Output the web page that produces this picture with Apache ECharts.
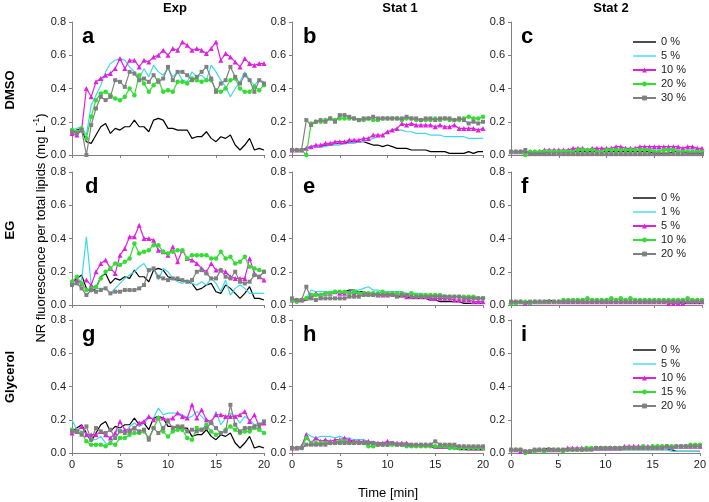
<!DOCTYPE html>
<html>
<head>
<meta charset="utf-8">
<script src="https://cdn.jsdelivr.net/npm/echarts@6/dist/echarts.min.js"></script>
<style>html,body{margin:0;padding:0;background:#fff}#c{width:709px;height:502px}</style>
</head>
<body>
<div id="c"></div>
<script>
// ---- data ----
const TIME = [0,0.5,1,1.5,2,2.5,3,3.5,4,4.5,5,5.5,6,6.5,7,7.5,8,8.5,9,9.5,10,10.5,11,11.5,12,12.5,13,13.5,14,14.5,15,15.5,16,16.5,17,17.5,18,18.5,19,19.5,20];
const ROW_NAMES = ['DMSO','EG','Glycerol'];
const COL_NAMES = ['Exp','Stat 1','Stat 2'];
const PANEL_LETTERS = ['a','b','c','d','e','f','g','h','i'];
const X_TICKS = [0,5,10,15,20];
const Y_TICKS = [0,0.2,0.4,0.6,0.8];
const LEG_DMSO = ['0 %','5 %','10 %','20 %','30 %'];
const LEG_EG = ['0 %','1 %','5 %','10 %','20 %'];
const LEG_GLY = ['0 %','5 %','10 %','15 %','20 %'];

// Panel a (DMSO, Exp)
const a_black = [0.13,0.15,0.16,0.08,0.07,0.12,0.17,0.19,0.13,0.16,0.15,0.17,0.17,0.21,0.17,0.17,0.14,0.21,0.22,0.21,0.16,0.16,0.15,0.15,0.15,0.10,0.11,0.11,0.14,0.10,0.08,0.11,0.10,0.12,0.06,0.03,0.06,0.10,0.03,0.04,0.03];
const a_cyan  = [0.15,0.16,0.17,0.12,0.30,0.36,0.42,0.50,0.55,0.57,0.58,0.57,0.53,0.50,0.46,0.52,0.47,0.54,0.50,0.48,0.52,0.47,0.50,0.45,0.44,0.50,0.47,0.48,0.45,0.54,0.50,0.45,0.41,0.35,0.40,0.44,0.50,0.45,0.42,0.45,0.44];
const a_mag   = [0.13,0.12,0.15,0.40,0.35,0.44,0.46,0.48,0.49,0.52,0.58,0.52,0.57,0.57,0.53,0.57,0.56,0.59,0.60,0.63,0.60,0.64,0.63,0.68,0.66,0.63,0.64,0.63,0.61,0.64,0.68,0.57,0.61,0.59,0.56,0.53,0.58,0.55,0.54,0.55,0.55];
const a_green = [0.15,0.14,0.16,0.10,0.23,0.33,0.37,0.38,0.36,0.34,0.33,0.35,0.40,0.36,0.48,0.43,0.38,0.42,0.45,0.38,0.39,0.38,0.44,0.44,0.43,0.46,0.45,0.44,0.45,0.45,0.39,0.38,0.40,0.45,0.46,0.40,0.38,0.38,0.41,0.39,0.42];
const a_gray  = [0.14,0.13,0.15,0.00,0.18,0.28,0.35,0.33,0.35,0.45,0.44,0.41,0.50,0.49,0.45,0.46,0.44,0.48,0.44,0.46,0.53,0.45,0.50,0.50,0.48,0.45,0.47,0.50,0.53,0.46,0.38,0.43,0.45,0.53,0.47,0.43,0.48,0.45,0.38,0.45,0.43];

// Panel b (DMSO, Stat 1)
const b_black = [0.03,0.03,0.03,0.04,0.05,0.05,0.05,0.06,0.06,0.07,0.07,0.07,0.08,0.08,0.08,0.08,0.07,0.06,0.06,0.05,0.06,0.05,0.04,0.04,0.04,0.03,0.03,0.03,0.03,0.02,0.02,0.02,0.02,0.01,0.01,0.01,0.01,0.02,0.01,0.02,0.02];
const b_cyan  = [0.03,0.03,0.03,0.04,0.05,0.05,0.05,0.05,0.06,0.06,0.06,0.07,0.07,0.07,0.08,0.08,0.09,0.10,0.11,0.12,0.14,0.15,0.15,0.15,0.14,0.14,0.13,0.13,0.13,0.12,0.12,0.12,0.11,0.11,0.11,0.11,0.11,0.10,0.10,0.10,0.10];
const b_mag   = [0.03,0.03,0.03,0.04,0.05,0.06,0.06,0.07,0.07,0.08,0.08,0.08,0.09,0.09,0.09,0.10,0.10,0.12,0.12,0.12,0.14,0.15,0.16,0.19,0.18,0.19,0.18,0.18,0.18,0.18,0.17,0.18,0.17,0.17,0.18,0.16,0.16,0.16,0.16,0.15,0.16];
const b_green = [0.03,0.03,0.03,0.00,0.19,0.20,0.20,0.21,0.22,0.21,0.22,0.22,0.22,0.22,0.21,0.21,0.22,0.21,0.21,0.22,0.22,0.22,0.22,0.21,0.22,0.22,0.21,0.21,0.21,0.21,0.22,0.21,0.22,0.21,0.21,0.21,0.22,0.23,0.22,0.22,0.23];
const b_gray  = [0.03,0.03,0.03,0.21,0.18,0.20,0.21,0.20,0.22,0.20,0.24,0.24,0.23,0.22,0.21,0.22,0.22,0.23,0.22,0.22,0.22,0.22,0.22,0.22,0.23,0.22,0.22,0.21,0.22,0.22,0.21,0.22,0.22,0.22,0.21,0.22,0.21,0.19,0.20,0.19,0.20];

// Panel c (DMSO, Stat 2)
const c_black = [0.02,0.02,0.02,0.02,0.01,0.01,0.01,0.01,0.02,0.02,0.02,0.02,0.02,0.02,0.02,0.02,0.02,0.02,0.02,0.02,0.02,0.02,0.02,0.02,0.02,0.02,0.02,0.02,0.02,0.02,0.01,0.01,0.01,0.01,0.02,0.02,0.02,0.01,0.01,0.01,0.01];
const c_cyan  = [0.02,0.02,0.02,0.02,0.01,0.02,0.02,0.02,0.02,0.02,0.02,0.02,0.03,0.03,0.03,0.03,0.03,0.03,0.03,0.03,0.03,0.03,0.03,0.03,0.03,0.03,0.03,0.03,0.03,0.03,0.03,0.03,0.03,0.03,0.03,0.03,0.03,0.03,0.03,0.03,0.03];
const c_mag   = [0.02,0.02,0.02,0.02,0.02,0.02,0.02,0.03,0.03,0.03,0.03,0.03,0.03,0.04,0.04,0.04,0.03,0.04,0.04,0.04,0.04,0.04,0.05,0.05,0.04,0.04,0.04,0.05,0.05,0.05,0.05,0.05,0.05,0.05,0.05,0.05,0.04,0.05,0.05,0.04,0.04];
const c_green = [0.02,0.02,0.02,0.00,0.02,0.02,0.02,0.02,0.02,0.02,0.02,0.02,0.02,0.02,0.03,0.03,0.03,0.03,0.02,0.02,0.03,0.03,0.03,0.03,0.03,0.03,0.03,0.03,0.03,0.03,0.02,0.02,0.03,0.03,0.03,0.02,0.02,0.02,0.02,0.02,0.02];
const c_gray  = [0.02,0.02,0.02,0.03,0.005,0.005,0.005,0.005,0.005,0.005,0.005,0.005,0.005,0.005,0.005,0.005,0.005,0.005,0.005,0.005,0.005,0.005,0.005,0.005,0.005,0.005,0.005,0.005,0.005,0.005,0.005,0.005,0.005,0.005,0.005,0.005,0.005,0.005,0.005,0.005,0.005];

// Panel d (EG, Exp)
const d_black = [0.14,0.16,0.18,0.10,0.08,0.10,0.17,0.19,0.13,0.16,0.15,0.17,0.16,0.21,0.17,0.17,0.14,0.21,0.22,0.21,0.17,0.16,0.15,0.15,0.14,0.13,0.09,0.10,0.12,0.13,0.08,0.07,0.12,0.10,0.07,0.04,0.07,0.11,0.04,0.04,0.03];
const d_cyan  = [0.12,0.13,0.15,0.41,0.12,0.10,0.10,0.10,0.07,0.10,0.13,0.16,0.18,0.20,0.23,0.25,0.20,0.22,0.15,0.22,0.20,0.16,0.14,0.13,0.15,0.13,0.12,0.14,0.12,0.16,0.13,0.08,0.15,0.06,0.10,0.12,0.10,0.07,0.07,0.07,0.07];
const d_mag   = [0.14,0.15,0.13,0.15,0.12,0.20,0.25,0.27,0.22,0.19,0.30,0.34,0.41,0.41,0.48,0.40,0.40,0.39,0.33,0.32,0.30,0.35,0.26,0.33,0.28,0.27,0.25,0.22,0.20,0.25,0.21,0.21,0.20,0.17,0.16,0.16,0.16,0.28,0.19,0.17,0.15];
const d_green = [0.14,0.17,0.13,0.09,0.10,0.11,0.16,0.20,0.22,0.25,0.24,0.26,0.28,0.37,0.31,0.32,0.33,0.36,0.36,0.32,0.31,0.32,0.33,0.33,0.28,0.30,0.30,0.30,0.30,0.28,0.28,0.32,0.28,0.29,0.25,0.26,0.29,0.23,0.22,0.21,0.20];
const d_gray  = [0.12,0.13,0.10,0.06,0.09,0.08,0.09,0.10,0.07,0.08,0.08,0.09,0.09,0.09,0.10,0.12,0.21,0.22,0.17,0.16,0.15,0.16,0.16,0.15,0.14,0.15,0.20,0.21,0.19,0.16,0.16,0.21,0.17,0.16,0.20,0.14,0.13,0.14,0.18,0.17,0.20];

// Panel e (EG, Stat 1)
const e_black = [0.03,0.03,0.02,0.03,0.05,0.06,0.06,0.07,0.07,0.08,0.08,0.08,0.09,0.09,0.08,0.08,0.07,0.07,0.06,0.06,0.06,0.06,0.05,0.05,0.05,0.04,0.04,0.04,0.04,0.03,0.03,0.02,0.02,0.02,0.02,0.02,0.01,0.01,0.01,0.01,0.01];
const e_cyan  = [0.03,0.03,0.03,0.04,0.09,0.08,0.08,0.08,0.08,0.08,0.08,0.08,0.08,0.09,0.09,0.10,0.11,0.09,0.09,0.08,0.08,0.08,0.08,0.08,0.07,0.07,0.07,0.07,0.06,0.06,0.06,0.06,0.06,0.05,0.05,0.05,0.05,0.04,0.04,0.03,0.03];
const e_mag   = [0.03,0.03,0.03,0.04,0.06,0.07,0.06,0.07,0.07,0.08,0.07,0.07,0.08,0.07,0.07,0.07,0.07,0.07,0.06,0.06,0.06,0.07,0.06,0.06,0.05,0.05,0.05,0.05,0.05,0.04,0.04,0.04,0.04,0.04,0.03,0.03,0.03,0.03,0.02,0.02,0.02];
const e_green = [0.03,0.02,0.03,0.04,0.06,0.06,0.06,0.07,0.07,0.08,0.08,0.08,0.07,0.08,0.07,0.07,0.07,0.07,0.07,0.08,0.07,0.07,0.07,0.07,0.06,0.07,0.06,0.06,0.06,0.06,0.06,0.06,0.05,0.05,0.05,0.05,0.05,0.05,0.05,0.04,0.04];
const e_gray  = [0.04,0.03,0.03,0.11,0.04,0.03,0.04,0.04,0.04,0.04,0.04,0.04,0.05,0.05,0.05,0.06,0.06,0.06,0.06,0.06,0.06,0.06,0.05,0.06,0.06,0.05,0.05,0.05,0.05,0.05,0.05,0.05,0.05,0.05,0.05,0.05,0.04,0.04,0.04,0.04,0.04];

// Panel f (EG, Stat 2)
const f_black = [0.02,0.02,0.02,0.02,0.02,0.02,0.02,0.02,0.03,0.02,0.02,0.02,0.02,0.02,0.02,0.02,0.02,0.02,0.02,0.02,0.02,0.02,0.02,0.02,0.02,0.02,0.02,0.02,0.02,0.02,0.02,0.02,0.02,0.02,0.02,0.02,0.01,0.01,0.01,0.01,0.01];
const f_cyan  = [0.02,0.02,0.02,0.01,0.02,0.02,0.02,0.02,0.02,0.02,0.02,0.02,0.02,0.02,0.02,0.02,0.02,0.02,0.02,0.02,0.02,0.02,0.02,0.02,0.02,0.02,0.02,0.02,0.02,0.02,0.02,0.02,0.02,0.02,0.02,0.02,0.02,0.02,0.02,0.02,0.02];
const f_mag   = [0.02,0.02,0.02,0.01,0.01,0.02,0.02,0.02,0.02,0.02,0.02,0.02,0.02,0.02,0.02,0.02,0.02,0.02,0.02,0.02,0.02,0.02,0.02,0.02,0.02,0.02,0.02,0.02,0.02,0.02,0.02,0.02,0.02,0.01,0.01,0.01,0.01,0.02,0.02,0.02,0.02];
const f_green = [0.01,0.01,0.02,0.02,0.01,0.02,0.02,0.02,0.02,0.02,0.02,0.03,0.03,0.03,0.03,0.03,0.04,0.03,0.03,0.03,0.03,0.04,0.03,0.04,0.03,0.04,0.03,0.03,0.03,0.03,0.03,0.03,0.03,0.03,0.03,0.03,0.03,0.04,0.03,0.03,0.03];
const f_gray  = [0.02,0.02,0.02,0.01,0.02,0.02,0.02,0.02,0.02,0.02,0.02,0.02,0.02,0.02,0.02,0.02,0.02,0.02,0.02,0.02,0.02,0.02,0.02,0.02,0.02,0.02,0.02,0.02,0.02,0.02,0.02,0.02,0.02,0.02,0.02,0.02,0.02,0.02,0.02,0.02,0.02];

// Panel g (Glycerol, Exp)
const g_black = [0.13,0.15,0.17,0.12,0.07,0.12,0.17,0.19,0.13,0.16,0.15,0.17,0.17,0.21,0.17,0.18,0.14,0.21,0.22,0.21,0.16,0.16,0.15,0.15,0.15,0.10,0.11,0.11,0.14,0.10,0.08,0.11,0.10,0.12,0.06,0.03,0.06,0.10,0.03,0.04,0.03];
const g_cyan  = [0.20,0.14,0.13,0.12,0.08,0.08,0.10,0.06,0.05,0.12,0.15,0.12,0.16,0.18,0.16,0.18,0.21,0.21,0.27,0.23,0.24,0.24,0.24,0.23,0.21,0.22,0.25,0.22,0.19,0.18,0.25,0.17,0.21,0.24,0.22,0.18,0.22,0.20,0.17,0.18,0.18];
const g_mag   = [0.12,0.13,0.16,0.11,0.11,0.11,0.13,0.11,0.09,0.12,0.19,0.14,0.14,0.15,0.18,0.19,0.22,0.20,0.21,0.21,0.20,0.21,0.24,0.22,0.21,0.29,0.21,0.26,0.20,0.19,0.23,0.23,0.22,0.22,0.22,0.23,0.25,0.19,0.23,0.16,0.18];
const g_green = [0.14,0.13,0.12,0.07,0.05,0.05,0.05,0.04,0.06,0.05,0.09,0.09,0.11,0.12,0.12,0.13,0.09,0.15,0.21,0.13,0.10,0.13,0.14,0.14,0.09,0.08,0.15,0.14,0.17,0.13,0.11,0.12,0.14,0.16,0.14,0.12,0.13,0.13,0.15,0.14,0.12];
const g_gray  = [0.13,0.13,0.11,0.16,0.08,0.15,0.13,0.12,0.14,0.09,0.13,0.12,0.13,0.15,0.13,0.14,0.08,0.15,0.12,0.15,0.19,0.15,0.16,0.16,0.13,0.14,0.13,0.14,0.15,0.18,0.15,0.12,0.13,0.29,0.17,0.13,0.15,0.15,0.16,0.17,0.19];

// Panel h (Glycerol, Stat 1)
const h_black = [0.03,0.03,0.03,0.05,0.05,0.05,0.05,0.06,0.06,0.06,0.07,0.07,0.07,0.07,0.07,0.06,0.06,0.06,0.06,0.06,0.05,0.05,0.05,0.05,0.05,0.04,0.04,0.04,0.04,0.04,0.03,0.03,0.03,0.03,0.03,0.02,0.02,0.02,0.02,0.02,0.02];
const h_cyan  = [0.03,0.03,0.03,0.12,0.10,0.09,0.10,0.10,0.10,0.09,0.10,0.09,0.09,0.08,0.08,0.08,0.07,0.07,0.06,0.06,0.06,0.06,0.06,0.05,0.05,0.05,0.05,0.05,0.04,0.04,0.04,0.04,0.04,0.03,0.03,0.03,0.03,0.03,0.03,0.03,0.03];
const h_mag   = [0.03,0.03,0.04,0.11,0.06,0.09,0.07,0.08,0.07,0.08,0.08,0.09,0.08,0.07,0.07,0.07,0.07,0.06,0.06,0.06,0.07,0.06,0.06,0.06,0.06,0.05,0.05,0.05,0.05,0.05,0.04,0.04,0.04,0.04,0.04,0.04,0.04,0.03,0.03,0.03,0.03];
const h_green = [0.03,0.03,0.03,0.09,0.06,0.06,0.06,0.06,0.06,0.06,0.07,0.07,0.06,0.06,0.06,0.06,0.04,0.04,0.05,0.05,0.05,0.05,0.05,0.05,0.04,0.04,0.04,0.04,0.04,0.04,0.04,0.04,0.04,0.03,0.03,0.03,0.03,0.03,0.03,0.03,0.03];
const h_gray  = [0.03,0.03,0.03,0.05,0.05,0.05,0.05,0.05,0.06,0.06,0.06,0.06,0.06,0.06,0.06,0.06,0.06,0.06,0.05,0.05,0.05,0.06,0.05,0.05,0.05,0.05,0.05,0.05,0.05,0.05,0.07,0.05,0.05,0.05,0.05,0.04,0.04,0.04,0.04,0.04,0.04];

// Panel i (Glycerol, Stat 2)
const i_black = [0.02,0.02,0.02,0.01,0.01,0.02,0.02,0.02,0.03,0.02,0.02,0.02,0.02,0.02,0.02,0.02,0.02,0.02,0.02,0.02,0.02,0.02,0.02,0.02,0.02,0.02,0.02,0.02,0.02,0.02,0.02,0.02,0.02,0.02,0.02,0.01,0.01,0.01,0.01,0.01,0.01];
const i_cyan  = [0.02,0.02,0.02,0.01,0.01,0.02,0.02,0.02,0.02,0.02,0.02,0.02,0.02,0.02,0.02,0.02,0.02,0.02,0.02,0.02,0.02,0.02,0.02,0.02,0.02,0.02,0.02,0.02,0.02,0.02,0.02,0.02,0.02,0.02,0.01,0.01,0.01,0.01,0.01,0.01,0.01];
const i_mag   = [0.02,0.02,0.01,0.01,0.01,0.02,0.02,0.02,0.02,0.02,0.02,0.02,0.03,0.03,0.03,0.03,0.03,0.03,0.03,0.03,0.03,0.03,0.03,0.03,0.04,0.04,0.04,0.04,0.04,0.04,0.04,0.04,0.04,0.04,0.04,0.04,0.04,0.04,0.04,0.04,0.04];
const i_green = [0.02,0.02,0.02,0.00,0.01,0.01,0.02,0.01,0.02,0.02,0.02,0.01,0.02,0.02,0.02,0.02,0.03,0.03,0.03,0.03,0.03,0.03,0.03,0.03,0.03,0.03,0.03,0.03,0.04,0.03,0.04,0.04,0.04,0.04,0.04,0.04,0.04,0.04,0.05,0.05,0.05];
const i_gray  = [0.02,0.02,0.02,0.01,0.01,0.02,0.02,0.02,0.02,0.02,0.02,0.02,0.02,0.02,0.02,0.02,0.02,0.02,0.03,0.03,0.03,0.03,0.03,0.03,0.03,0.03,0.03,0.03,0.03,0.03,0.03,0.03,0.03,0.04,0.03,0.04,0.04,0.04,0.04,0.04,0.04];

// ---- assembly ----
const PANELS = [
  [a_black,a_cyan,a_mag,a_green,a_gray],
  [b_black,b_cyan,b_mag,b_green,b_gray],
  [c_black,c_cyan,c_mag,c_green,c_gray],
  [d_black,d_cyan,d_mag,d_green,d_gray],
  [e_black,e_cyan,e_mag,e_green,e_gray],
  [f_black,f_cyan,f_mag,f_green,f_gray],
  [g_black,g_cyan,g_mag,g_green,g_gray],
  [h_black,h_cyan,h_mag,h_green,h_gray],
  [i_black,i_cyan,i_mag,i_green,i_gray]
];
const LEGENDS = [LEG_DMSO, LEG_EG, LEG_GLY];

const FONT = "'Liberation Sans', Arial, sans-serif";
const COLORS = ['#000000','#3fd9ef','#e020e0','#33dd33','#808080'];
const SYMBOLS = ['none','none','triangle','circle','rect'];
const SYMSIZE = [0,0,5,4.5,4];
const AXIS_COLOR = '#808080';
const TEXT_COLOR = '#1a1a1a';
const PLAIN_LINE_ICON = 'path://M0,0H23V1.4H0Z';

const COL_LEFT = [72, 292, 511];
const COL_W = [192, 191, 191];
const ROW_TOP = [22, 172, 320];
const ROW_H = [133, 133, 133];

const grids = [], xAxes = [], yAxes = [], series = [], graphics = [], legends = [];

for (let p = 0; p < 9; p++) {
  const r = Math.floor(p / 3), c = p % 3;
  grids.push({ left: COL_LEFT[c], top: ROW_TOP[r], width: COL_W[c], height: ROW_H[r] });
  xAxes.push({
    type: 'value', gridIndex: p, min: X_TICKS[0], max: X_TICKS[X_TICKS.length - 1], interval: 5,
    axisLine: { show: true, lineStyle: { color: AXIS_COLOR, width: 1 } },
    axisTick: { show: true, inside: false, length: 3, lineStyle: { color: AXIS_COLOR } },
    axisLabel: { show: r === 2, color: TEXT_COLOR, fontSize: 11, fontFamily: FONT, margin: 6 },
    splitLine: { show: false }
  });
  yAxes.push({
    type: 'value', gridIndex: p, min: Y_TICKS[0], max: Y_TICKS[Y_TICKS.length - 1], interval: 0.2,
    axisLine: { show: true, lineStyle: { color: AXIS_COLOR, width: 1 } },
    axisTick: { show: true, inside: false, length: 3, lineStyle: { color: AXIS_COLOR } },
    axisLabel: { color: TEXT_COLOR, fontSize: 11, fontFamily: FONT, margin: 6, formatter: v => v.toFixed(1) },
    splitLine: { show: false }
  });
  PANELS[p].forEach((vals, s) => {
    series.push({
      type: 'line',
      name: ROW_NAMES[r] + '|' + LEGENDS[r][s],
      xAxisIndex: p, yAxisIndex: p,
      data: TIME.map((t, k) => [t, vals[k]]),
      symbol: SYMBOLS[s], symbolSize: SYMSIZE[s], showSymbol: s >= 2,
      lineStyle: { color: COLORS[s], width: 1.2 },
      itemStyle: { color: COLORS[s] },
      emphasis: { disabled: true },
      animation: false, z: 2 + s
    });
  });
  const letterX = [82, 303, 521][c] + (p === 3 ? 3 : 0);
  graphics.push({
    type: 'text', x: letterX, y: ROW_TOP[r] + 14.5,
    style: { text: PANEL_LETTERS[p], font: 'bold 22px ' + FONT, fill: '#000', textAlign: 'left', textVerticalAlign: 'middle' }
  });
}

const LEGEND_TOP = [35, 191, 343];
for (let r = 0; r < 3; r++) {
  legends.push({
    orient: 'vertical', left: 632, top: LEGEND_TOP[r], padding: 0,
    itemWidth: 23, itemHeight: 6, itemGap: 0,
    selectedMode: false,
    data: LEGENDS[r].map((l, s) => s < 2
      ? { name: ROW_NAMES[r] + '|' + l, icon: PLAIN_LINE_ICON }
      : { name: ROW_NAMES[r] + '|' + l }),
    formatter: n => n.split('|')[1],
    textStyle: { color: TEXT_COLOR, fontSize: 11, fontFamily: FONT, lineHeight: 14 }
  });
}

// column titles
const COL_TITLE_X = [175, 400, 611];
COL_NAMES.forEach((t, c) => graphics.push({
  type: 'text', x: COL_TITLE_X[c], y: 8,
  style: { text: t, font: 'bold 13px ' + FONT, fill: '#000', textAlign: 'center', textVerticalAlign: 'middle' }
}));
// row labels
const ROW_LABEL_Y = [90, 230, 377];
ROW_NAMES.forEach((t, r) => graphics.push({
  type: 'text', x: 10, y: ROW_LABEL_Y[r], rotation: Math.PI / 2,
  style: { text: t, font: 'bold 13px ' + FONT, fill: '#000', textAlign: 'center', textVerticalAlign: 'middle' }
}));
// y title
graphics.push({
  type: 'text', x: 40, y: 228, rotation: Math.PI / 2,
  style: {
    text: '{n|NR fluorescence per total lipids (mg L}{s|-1}{n|)}',
    textAlign: 'center', textVerticalAlign: 'middle',
    rich: {
      n: { font: '13px ' + FONT, fill: '#000', lineHeight: 16, verticalAlign: 'bottom' },
      s: { font: '9px ' + FONT, fill: '#000', lineHeight: 16, verticalAlign: 'top', padding: [0, 0, 6, 0] }
    }
  }
});
// x title
graphics.push({
  type: 'text', x: 388, y: 493,
  style: { text: 'Time [min]', font: '13px ' + FONT, fill: '#000', textAlign: 'center', textVerticalAlign: 'middle' }
});

const chart = echarts.init(document.getElementById('c'), null, { renderer: 'canvas', width: 709, height: 502 });
chart.setOption({
  animation: false,
  backgroundColor: '#ffffff',
  grid: grids, xAxis: xAxes, yAxis: yAxes, series: series,
  legend: legends,
  graphic: { elements: graphics }
});
</script>
</body>
</html>
